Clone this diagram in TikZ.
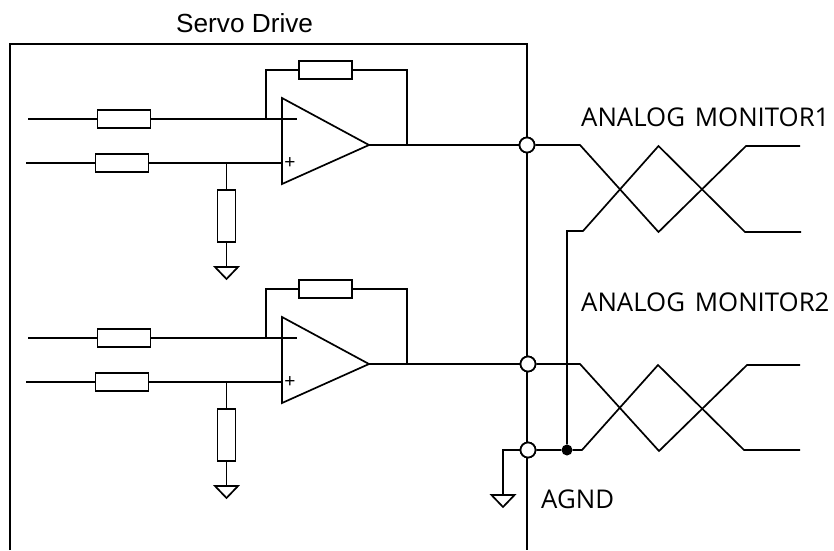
\documentclass[tikz,border=0pt]{standalone}
\usepackage{fontspec}
\setmainfont{Liberation Sans}
\newfontfamily\labelfont{Open Sans}
\tikzset{
  wire/.style={draw=black,line width=1.7pt,line join=miter},
  res/.style={draw=black,line width=1.7pt,fill=white,inner sep=0pt,minimum width=53pt,minimum height=18pt},
  vres/.style={draw=black,line width=1.7pt,fill=white,inner sep=0pt,minimum width=18pt,minimum height=52pt},
  term/.style={circle,draw=black,line width=1.7pt,fill=white,inner sep=0pt,minimum size=15pt},
  jdot/.style={circle,fill=black,inner sep=0pt,minimum size=11pt},
  gndsym/.style={draw=black,line width=1.7pt,line join=miter,fill=white},
  lab/.style={inner sep=0pt,anchor=base west,text=black},
  sign/.style={inner sep=0pt,font=\fontsize{19}{19}\selectfont}
}
\newcommand{\ampstage}[2]{%
  \begin{scope}[yshift=-#2pt]
    \coordinate (#1inA) at (28,119);
    \coordinate (#1inB) at (26,163);
    \coordinate (#1minus) at (297,119);
    \coordinate (#1fbA) at (266,119);
    \coordinate (#1fbAt) at (266,70);
    \coordinate (#1fbBt) at (407,70);
    \coordinate (#1fbB) at (407,145);
    \coordinate (#1a) at (282,98);
    \coordinate (#1b) at (282,184);
    \coordinate (#1o) at (369,145);
    \coordinate (#1plus) at (282,163);
    \coordinate (#1tap) at (226.5,163);
    \coordinate (#1g) at (226.5,267);
    \node[res] (#1r1) at (124,119) {};
    \node[res] (#1r2) at (122,163) {};
    \node[res] (#1rf) at (325.5,70) {};
    \node[vres] (#1r3) at (226.5,216) {};
    \node[sign] at (290,163) {+};
  \end{scope}
  \draw[wire] (#1inA) -- (#1r1);
  \draw[wire] (#1r1) -- (#1minus);
  \draw[wire] (#1inB) -- (#1r2);
  \draw[wire] (#1r2) -- (#1plus);
  \draw[wire] (#1fbA) -- (#1fbAt) -- (#1rf);
  \draw[wire] (#1rf) -- (#1fbBt) -- (#1fbB);
  \draw[wire] (#1tap) -- (#1r3);
  \draw[wire] (#1r3) -- (#1g);
  \draw[gndsym] ($(#1g)+(-11.5,0)$) -- ($(#1g)+(11.5,0)$) -- ($(#1g)+(0,12)$) -- cycle;
  \draw[wire] (#1a) -- (#1b) -- (#1o) -- cycle;
}
\usetikzlibrary{calc}
\begin{document}
\begin{tikzpicture}[x=1pt,y=-1pt]
\useasboundingbox (0,0) rectangle (834,550);
\coordinate (fbl) at (10,550);
\coordinate (ftl) at (10,44);
\coordinate (ftr) at (527,44);
\coordinate (fbr) at (527,550);
\draw[wire] (fbl) -- (ftl) -- (ftr) -- (fbr);
\node[lab] (title) at (176,32) {\fontsize{26.2}{30}\selectfont Servo Drive};
\ampstage{u}{0}
\ampstage{l}{219}
\node[term] (t1) at (527,145) {};
\node[term] (t2) at (528,364) {};
\node[term] (t3) at (528,450) {};
\coordinate (p1a) at (580,145);
\coordinate (p1b) at (658.5,232);
\coordinate (p1c) at (746,146);
\coordinate (p1d) at (800,146);
\coordinate (q1v) at (567,231);
\coordinate (q1a) at (583,231);
\coordinate (q1b) at (658.5,146);
\coordinate (q1c) at (745,232);
\coordinate (q1d) at (801,232);
\coordinate (p2a) at (580,364);
\coordinate (p2b) at (659,451);
\coordinate (p2c) at (747,365);
\coordinate (p2d) at (800,365);
\coordinate (q2a) at (582,450);
\coordinate (q2b) at (658,365);
\coordinate (q2c) at (744,450);
\coordinate (q2d) at (800,450);
\node[jdot] (j) at (567,450) {};
\coordinate (gt) at (503,450);
\coordinate (gb) at (503,495);
\draw[wire] (uo) -- (t1);
\draw[wire] (lo) -- (t2);
\draw[wire] (t1) -- (p1a) -- (p1b) -- (p1c) -- (p1d);
\draw[wire] (t2) -- (p2a) -- (p2b) -- (p2c) -- (p2d);
\draw[wire] (j) -- (q1v) -- (q1a) -- (q1b) -- (q1c) -- (q1d);
\draw[wire] (t3) -- (j) -- (q2a) -- (q2b) -- (q2c) -- (q2d);
\draw[wire] (t3) -- (gt) -- (gb);
\draw[gndsym] (491.5,495) -- (514.5,495) -- (503,507) -- cycle;
\node[term] at (t1) {};
\node[term] at (t2) {};
\node[term] at (t3) {};
\node[lab] (m1) at (581,126) {\labelfont\fontsize{25.8}{30}\selectfont ANALOG\hspace{0.12em} MONITOR1};
\node[lab] (m2) at (581,311) {\labelfont\fontsize{25.8}{30}\selectfont ANALOG\hspace{0.12em} MONITOR2};
\node[lab] (ag) at (541,508.5) {\labelfont\fontsize{25.8}{30}\selectfont AGND};
\end{tikzpicture}
\end{document}
